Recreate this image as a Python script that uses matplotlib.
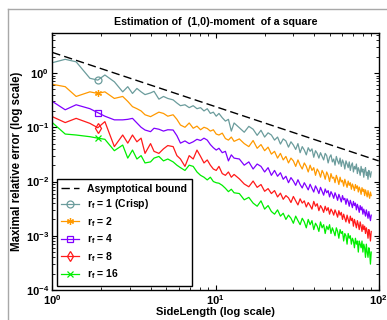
import numpy as np
import matplotlib
matplotlib.use("Agg")
import matplotlib.pyplot as plt
from matplotlib.lines import Line2D

plt.rcParams["font.family"] = ["Liberation Sans", "DejaVu Sans"]
plt.rcParams["font.weight"] = "bold"
plt.rcParams["mathtext.fontset"] = "custom"
plt.rcParams["mathtext.rm"] = "Liberation Sans:bold"
plt.rcParams["mathtext.it"] = "Liberation Sans:bold"
plt.rcParams["mathtext.bf"] = "Liberation Sans:bold"
plt.rcParams["mathtext.default"] = "bf"

# ── Data ──────────────────────────────────────────────────────
side = ([1.0, 1.2, 1.4, 1.7, 1.9, 2.1, 2.4, 2.7, 2.9, 3.1, 3.3, 3.5, 3.7]
        + [4.0, 4.2, 4.5, 4.8, 5.1, 5.5, 5.8, 6.1, 6.5, 6.9, 7.3, 7.7,
           8.1, 8.5, 8.9, 9.3, 9.7, 10.1, 10.5, 11.0, 11.5, 12.0, 12.5, 13.0]
        + list(range(14, 91)))

bound_x = [1, 100]
bound_y = [2.4, 0.024]

err_r1 = ([1.55, 1.79, 1.61, 0.80, 0.74, 0.92, 0.69, 0.45, 0.56, 0.42, 0.52, 0.45, 0.40]
          + [0.43, 0.46, 0.33, 0.37, 0.34, 0.32, 0.28, 0.25, 0.26, 0.23, 0.25, 0.22,
             0.23, 0.20, 0.22, 0.18, 0.19, 0.16, 0.18, 0.15, 0.13, 0.14, 0.085, 0.12]
          + [0.098, 0.081, 0.104, 0.092, 0.071, 0.088, 0.066, 0.079, 0.072, 0.058,
             0.066, 0.049, 0.061, 0.056, 0.043, 0.054, 0.047, 0.039, 0.050, 0.034,
             0.044, 0.038, 0.031, 0.042, 0.036, 0.040, 0.028, 0.037, 0.033, 0.027,
             0.034, 0.029, 0.025, 0.033, 0.030, 0.022, 0.028, 0.031, 0.023, 0.026,
             0.020, 0.029, 0.024, 0.021, 0.027, 0.019, 0.025, 0.022, 0.017, 0.024,
             0.021, 0.018, 0.023, 0.016, 0.020, 0.022, 0.015, 0.019, 0.017, 0.021,
             0.014, 0.018, 0.016, 0.013, 0.019, 0.015, 0.017, 0.012, 0.016, 0.018,
             0.013, 0.015, 0.011, 0.016, 0.014, 0.012, 0.015])

err_r2 = ([0.62, 0.56, 0.37, 0.45, 0.42, 0.45, 0.34, 0.37, 0.30, 0.24, 0.22, 0.20, 0.17]
          + [0.157, 0.17, 0.19, 0.18, 0.16, 0.17, 0.14, 0.11, 0.10, 0.12, 0.096, 0.105,
             0.09, 0.10, 0.095, 0.085, 0.09, 0.075, 0.072, 0.078, 0.062, 0.058, 0.066, 0.055]
          + [0.061, 0.050, 0.044, 0.057, 0.041, 0.048, 0.037, 0.043, 0.032, 0.036,
             0.027, 0.033, 0.025, 0.029, 0.022, 0.027, 0.024, 0.019, 0.025, 0.020,
             0.017, 0.022, 0.019, 0.015, 0.020, 0.016, 0.018, 0.013, 0.017, 0.015,
             0.012, 0.016, 0.014, 0.011, 0.015, 0.013, 0.010, 0.014, 0.0115, 0.012,
             0.0095, 0.013, 0.011, 0.0088, 0.012, 0.0098, 0.0105, 0.0082, 0.011, 0.0092,
             0.0078, 0.0102, 0.0085, 0.0095, 0.0072, 0.0090, 0.0080, 0.0068, 0.0088, 0.0075,
             0.0083, 0.0064, 0.0079, 0.0070, 0.0058, 0.0077, 0.0066, 0.0072, 0.0055, 0.0070,
             0.0061, 0.0052, 0.0068, 0.0057, 0.0049, 0.0064, 0.0055])

err_r4 = ([0.30, 0.21, 0.26, 0.22, 0.186, 0.16, 0.137, 0.137, 0.14, 0.146, 0.12, 0.10, 0.089]
          + [0.083, 0.096, 0.092, 0.085, 0.09, 0.089, 0.07, 0.051, 0.056, 0.05, 0.054, 0.06,
             0.057, 0.063, 0.058, 0.048, 0.042, 0.038, 0.041, 0.034, 0.036, 0.024, 0.031, 0.027]
          + [0.026, 0.020, 0.023, 0.017, 0.021, 0.019, 0.015, 0.018, 0.013, 0.016,
             0.0125, 0.0145, 0.011, 0.0125, 0.0095, 0.0118, 0.0102, 0.0085, 0.0108, 0.0088,
             0.0076, 0.0095, 0.0082, 0.0070, 0.0089, 0.0075, 0.0064, 0.0083, 0.0072, 0.0060,
             0.0078, 0.0066, 0.0056, 0.0073, 0.0062, 0.0068, 0.0052, 0.0065, 0.0058, 0.0049,
             0.0062, 0.0054, 0.0045, 0.0058, 0.0050, 0.0042, 0.0055, 0.0046, 0.0049, 0.0038,
             0.0048, 0.0043, 0.0035, 0.0045, 0.0039, 0.0033, 0.0043, 0.0036, 0.0040, 0.0030,
             0.0038, 0.0033, 0.0027, 0.0036, 0.0030, 0.0034, 0.0025, 0.0031, 0.0027, 0.0023,
             0.0030, 0.0025, 0.0021, 0.0028, 0.0023, 0.0019, 0.0024])

err_r8 = ([0.157, 0.122, 0.146, 0.118, 0.098, 0.127, 0.044, 0.072, 0.051, 0.072, 0.054, 0.063, 0.033]
          + [0.05, 0.036, 0.033, 0.040, 0.046, 0.044, 0.030, 0.026, 0.019, 0.030, 0.026, 0.038,
             0.029, 0.022, 0.025, 0.020, 0.017, 0.016, 0.019, 0.014, 0.013, 0.015, 0.012, 0.0135]
          + [0.0112, 0.0090, 0.0080, 0.0102, 0.0078, 0.0088, 0.0066, 0.0074, 0.0060, 0.0068,
             0.0052, 0.0061, 0.0047, 0.0055, 0.0050, 0.0041, 0.0053, 0.0044, 0.0037, 0.0048,
             0.0040, 0.0044, 0.0034, 0.0041, 0.0036, 0.0031, 0.0043, 0.0035, 0.0039, 0.0029,
             0.0036, 0.0032, 0.0027, 0.0035, 0.0029, 0.0033, 0.0025, 0.0031, 0.0028, 0.0024,
             0.0030, 0.0026, 0.0022, 0.0029, 0.0024, 0.0027, 0.0020, 0.0025, 0.0021, 0.0018,
             0.0024, 0.0020, 0.0017, 0.0023, 0.0019, 0.0021, 0.0015, 0.0020, 0.0017, 0.0014,
             0.0019, 0.0016, 0.0013, 0.0018, 0.0015, 0.0012, 0.0016, 0.0013, 0.0015, 0.0011,
             0.0014, 0.0012, 0.0009, 0.0013, 0.0011, 0.0008, 0.0012])

err_r16 = ([0.122, 0.075, 0.072, 0.067, 0.063, 0.06, 0.037, 0.047, 0.027, 0.038, 0.026, 0.030, 0.022]
           + [0.023, 0.027, 0.029, 0.024, 0.026, 0.023, 0.020, 0.018, 0.016, 0.020, 0.019, 0.015,
              0.013, 0.012, 0.0107, 0.012, 0.010, 0.0095, 0.0093, 0.0085, 0.0075, 0.0065, 0.0072, 0.0062]
           + [0.0060, 0.0046, 0.0051, 0.0040, 0.0035, 0.0044, 0.0031, 0.0036, 0.0028, 0.0025,
              0.0030, 0.0023, 0.0026, 0.0020, 0.0024, 0.0021, 0.0017, 0.0023, 0.0019, 0.0016,
              0.0021, 0.0018, 0.0014, 0.0020, 0.0016, 0.0019, 0.0013, 0.0017, 0.0015, 0.0012,
              0.0018, 0.0014, 0.0016, 0.0011, 0.0015, 0.0013, 0.0016, 0.0011, 0.0014, 0.0012,
              0.0010, 0.0014, 0.0012, 0.0009, 0.0013, 0.0011, 0.0012, 0.0008, 0.0011, 0.0010,
              0.0007, 0.0011, 0.0009, 0.0010, 0.0007, 0.0009, 0.0008, 0.0006, 0.0009, 0.0007,
              0.0008, 0.0005, 0.0008, 0.0007, 0.0006, 0.0008, 0.0005, 0.0007, 0.0006, 0.0004,
              0.0007, 0.0005, 0.0004, 0.0006, 0.0005, 0.0003, 0.0005])

labels = [r"$r_f$ = 1 (Crisp)", r"$r_f$ = 2", r"$r_f$ = 4", r"$r_f$ = 8", r"$r_f$ = 16"]
colors = ["#6b9c9c", "#ff9900", "#8000ff", "#ff1a1a", "#00ee00"]
markers = ["o", (6, 2, 0), "s", "d", "x"]
series = [err_r1, err_r2, err_r4, err_r8, err_r16]

for s in series:
    assert len(s) == len(side), (len(s), len(side))

# ── Plot ───────────────────────────────────────────────────────
fig = plt.figure(figsize=(3.87, 3.20), dpi=100)
ax = fig.add_axes([52.3 / 387, 1 - 290 / 320, 326.4 / 387, 256.7 / 320])

ax.plot(bound_x, bound_y, color="black", lw=1.0, dashes=(6, 3), label="Asymptotical bound")
mark_idx = side.index(1.9)
for y, lab, c, m in zip(series, labels, colors, markers):
    ax.plot(side, y, color=c, lw=0.9, marker=m, markevery=[mark_idx],
            markersize=5, markerfacecolor="none", markeredgecolor=c,
            markeredgewidth=0.9, label=lab)

ax.set_xscale("log")
ax.set_yscale("log")
ax.set_xlim(1, 100)
ax.set_ylim(1e-4, 5.4)

ax.tick_params(which="both", direction="in", top=True, right=True, labelsize=8)
ax.tick_params(which="major", length=3.5, width=0.8, pad=2.5)
ax.tick_params(which="minor", length=2, width=0.6)
for sp in ax.spines.values():
    sp.set_linewidth(1.0)

ax.set_title("Estimation of  (1,0)-moment  of a square", fontsize=7.7,
             fontweight="bold", pad=6)
ax.set_ylabel("Maximal relative error (log scale)", fontsize=8.3, fontweight="bold", labelpad=2)
ax.set_xlabel("SideLength (log scale)", fontsize=8, fontweight="bold", labelpad=0)

leg = ax.legend(loc="lower left", bbox_to_anchor=(0.0135, 0.0168), borderaxespad=0,
                fontsize=7.5, handlelength=1.7, handletextpad=0.75, labelspacing=0.35,
                borderpad=0.45, fancybox=False, framealpha=1, edgecolor="black")
leg.get_frame().set_linewidth(1.0)

# light grey figure border on the top and left
fig.add_artist(Line2D([8 / 387, 8 / 387], [0, 1 - 9 / 320], transform=fig.transFigure,
                      color="#a8a8a8", lw=1.0))
fig.add_artist(Line2D([8 / 387, 1], [1 - 9 / 320, 1 - 9 / 320], transform=fig.transFigure,
                      color="#a8a8a8", lw=1.0))

fig.savefig("out.png", dpi=100)
